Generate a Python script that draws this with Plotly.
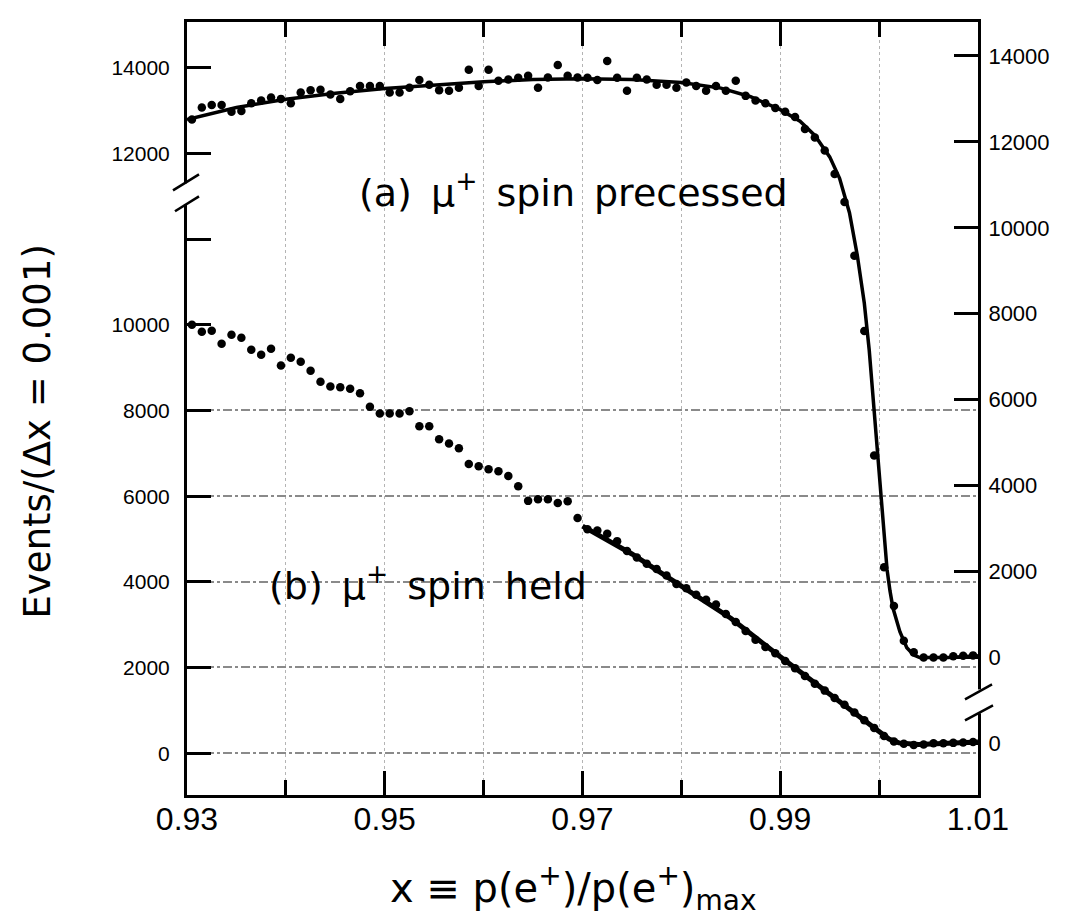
from plotly.graph_objects import Figure, Scatter

# (a) mu+ spin precessed: events per bin, read on the right-hand scale
X_A = [
    0.9305, 0.9315, 0.9325, 0.9335, 0.9345, 0.9355, 0.9365, 0.9375, 0.9385, 0.9395,
    0.9405, 0.9415, 0.9425, 0.9435, 0.9445, 0.9455, 0.9465, 0.9475, 0.9485, 0.9495,
    0.9505, 0.9515, 0.9525, 0.9535, 0.9545, 0.9555, 0.9565, 0.9575, 0.9585, 0.9595,
    0.9605, 0.9615, 0.9625, 0.9635, 0.9645, 0.9655, 0.9665, 0.9675, 0.9685, 0.9695,
    0.9705, 0.9715, 0.9725, 0.9735, 0.9745, 0.9755, 0.9765, 0.9775, 0.9785, 0.9795,
    0.9805, 0.9815, 0.9825, 0.9835, 0.9845, 0.9855, 0.9865, 0.9875, 0.9885, 0.9895,
    0.9905, 0.9915, 0.9925, 0.9935, 0.9945, 0.9955, 0.9965, 0.9975, 0.9985, 0.9995,
    1.0005, 1.0015, 1.0025, 1.0035, 1.0045, 1.0055, 1.0065, 1.0075, 1.0085, 1.0095,
]
Y_A = [
    12520, 12800, 12860, 12860, 12700, 12720, 12900, 12960, 13030, 13000,
    12900, 13150, 13200, 13210, 13100, 13000, 13180, 13300, 13300, 13300,
    13150, 13150, 13260, 13440, 13330, 13200, 13190, 13260, 13680, 13300,
    13680, 13420, 13450, 13490, 13540, 13260, 13500, 13790, 13540, 13500,
    13490, 13440, 13880, 13490, 13190, 13490, 13450, 13330, 13330, 13260,
    13380, 13300, 13190, 13300, 13190, 13420, 13070, 12960, 12900, 12790,
    12700, 12580, 12300, 12100, 11800, 11250, 10600, 9350, 7600, 4700,
    2100, 1200, 390, 120, 0, 0, 0, 30, 40, 50,
]
X_A_FIT = [
    0.9300, 0.9350, 0.9400, 0.9450, 0.9500, 0.9550, 0.9600, 0.9650, 0.9700, 0.9750,
    0.9800, 0.9840, 0.9870, 0.9900, 0.9920, 0.9935, 0.9950, 0.9960, 0.9970, 0.9978,
    0.9985, 0.9990, 0.9995, 1.0000, 1.0005, 1.0008, 1.0011, 1.0014, 1.0021, 1.0028,
    1.0035, 1.0041, 1.0070, 1.0100,
]
Y_A_FIT = [
    12520, 12800, 12990, 13130, 13240, 13330, 13400, 13450, 13470, 13450,
    13380, 13250, 13050, 12750, 12480, 12150, 11650, 11150, 10350, 9350,
    8250, 7150, 5750, 4250, 3000, 2050, 1550, 1150, 600, 230,
    60, 0, 0, 40,
]

# (b) mu+ spin held: events per bin, read on the left-hand scale
X_B = [
    0.9305, 0.9315, 0.9325, 0.9335, 0.9345, 0.9355, 0.9365, 0.9375, 0.9385, 0.9395,
    0.9405, 0.9415, 0.9425, 0.9435, 0.9445, 0.9455, 0.9465, 0.9475, 0.9485, 0.9495,
    0.9505, 0.9515, 0.9525, 0.9535, 0.9545, 0.9555, 0.9565, 0.9575, 0.9585, 0.9595,
    0.9605, 0.9615, 0.9625, 0.9635, 0.9645, 0.9655, 0.9665, 0.9675, 0.9685, 0.9695,
    0.9705, 0.9715, 0.9725, 0.9735, 0.9745, 0.9755, 0.9765, 0.9775, 0.9785, 0.9795,
    0.9805, 0.9815, 0.9825, 0.9835, 0.9845, 0.9855, 0.9865, 0.9875, 0.9885, 0.9895,
    0.9905, 0.9915, 0.9925, 0.9935, 0.9945, 0.9955, 0.9965, 0.9975, 0.9985, 0.9995,
    1.0005, 1.0015, 1.0025, 1.0035, 1.0045, 1.0055, 1.0065, 1.0075, 1.0085, 1.0095,
]
Y_B = [
    10000, 9840, 9860, 9560, 9770, 9700, 9420, 9300, 9440, 9050,
    9230, 9140, 8930, 8670, 8560, 8540, 8510, 8400, 8090, 7930,
    7930, 7930, 7980, 7630, 7630, 7330, 7230, 7120, 6750, 6700,
    6630, 6580, 6470, 6230, 5890, 5930, 5930, 5840, 5880, 5490,
    5230, 5200, 5120, 4950, 4720, 4570, 4420, 4300, 4150, 3950,
    3850, 3700, 3580, 3470, 3250, 3060, 2850, 2650, 2480, 2330,
    2150, 1980, 1800, 1620, 1460, 1290, 1130, 950, 770, 590,
    400, 270, 220, 190, 200, 230, 230, 240, 250, 260,
]
X_B_FIT = [0.9700, 0.9750, 0.9800, 0.9850, 0.9900, 0.9950, 0.9980, 1.0000, 1.0010, 1.0020, 1.0040, 1.0070, 1.0100]
Y_B_FIT = [5300, 4650, 3900, 3150, 2250, 1380, 850, 500, 330, 240, 200, 230, 260]

# axis ticks: the left scale is broken, its upper part relabelled
LEFT_TICKS = [0, 2000, 4000, 6000, 8000, 10000, 12000, 14000, 16000]
LEFT_LABELS = ["0", "2000", "4000", "6000", "8000", "10000", "", "12000", "14000"]
RIGHT_TICKS = [-2000, 0, 2000, 4000, 6000, 8000, 10000, 12000, 14000]
RIGHT_LABELS = ["0", "0", "2000", "4000", "6000", "8000", "10000", "12000", "14000"]
GRID_TICKS = [0, 2000, 4000, 6000, 8000]
X_MINOR = [0.94, 0.96, 0.98, 1.00]

FONT = "Liberation Sans, Arial, sans-serif"
TEXT_FONT = "DejaVu Sans, sans-serif"
PAGE_W, PAGE_H = 1082, 918
BODY = 8  # the page body margin shifts the figure
LEFT, RIGHT, TOP, BOTTOM = 187, 978, 19, 795  # plot frame, page pixels


def paper(x, y):
    """Page pixel position to paper coordinates."""
    return (x - LEFT) / (RIGHT - LEFT), (BOTTOM - y) / (BOTTOM - TOP)


def line(x0, y0, x1, y1, width=2.5):
    a, b = paper(x0, y0)
    c, d = paper(x1, y1)
    return dict(type="line", xref="paper", yref="paper", x0=a, y0=b, x1=c, y1=d,
                line=dict(color="black", width=width), layer="above")


def gap(x0, y0, x1, y1):
    a, b = paper(x0, y0)
    c, d = paper(x1, y1)
    return dict(type="rect", xref="paper", yref="paper", x0=a, y0=b, x1=c, y1=d,
                fillcolor="white", line=dict(width=0), layer="above")


def label(fig, text, x, y, size, angle=0):
    px, py = paper(x, y)
    fig.add_annotation(text=text, x=px, y=py, xref="paper", yref="paper",
                       xanchor="center", yanchor="middle", textangle=angle,
                       showarrow=False, font=dict(family=TEXT_FONT, size=size))


def main():
    fig = Figure()
    fig.add_trace(Scatter(x=X_A_FIT, y=Y_A_FIT, yaxis="y2", mode="lines",
                          line=dict(color="black", width=3.5)))
    fig.add_trace(Scatter(x=X_A, y=Y_A, yaxis="y2", mode="markers",
                          marker=dict(color="black", size=8.5)))
    fig.add_trace(Scatter(x=X_B_FIT, y=Y_B_FIT, mode="lines",
                          line=dict(color="black", width=5)))
    fig.add_trace(Scatter(x=X_B, y=Y_B, mode="markers",
                          marker=dict(color="black", size=8.5)))
    # keeps the grid axis alive
    fig.add_trace(Scatter(x=[0.93], y=[0], yaxis="y3", mode="markers",
                          marker=dict(size=0.1, opacity=0), hoverinfo="skip"))

    tick = dict(ticks="inside", ticklen=24, tickwidth=2.5, tickcolor="black",
                showline=True, linecolor="black", linewidth=3, zeroline=False)
    fig.update_layout(
        width=PAGE_W - BODY, height=PAGE_H - BODY,
        margin=dict(l=LEFT - BODY, r=PAGE_W - RIGHT, t=TOP - BODY, b=PAGE_H - BOTTOM),
        paper_bgcolor="white", plot_bgcolor="white",
        showlegend=False,
        font=dict(family=FONT, color="black"),
        xaxis=dict(
            **tick, range=[0.93, 1.01], tickmode="linear", tick0=0.93, dtick=0.02,
            tickformat=".2f", mirror="ticks", ticklabelstandoff=-6,
            tickfont=dict(size=32),
            showgrid=True, griddash="dot", gridcolor="#b4b4b4", gridwidth=1,
            minor=dict(tickvals=X_MINOR, ticks="inside", ticklen=15, tickwidth=2.5,
                       tickcolor="black", showgrid=True, griddash="dot",
                       gridcolor="#b4b4b4", gridwidth=1),
        ),
        yaxis=dict(
            **tick, range=[-977, 17070], tickmode="array", tickvals=LEFT_TICKS,
            ticktext=LEFT_LABELS, tickfont=dict(size=21), ticklabelstandoff=10,
            showgrid=False,
        ),
        yaxis2=dict(
            **tick, range=[-3199, 14789], overlaying="y", side="right", anchor="x",
            tickmode="array", tickvals=RIGHT_TICKS, ticktext=RIGHT_LABELS,
            tickfont=dict(size=22), ticklabelstandoff=3, showgrid=False,
        ),
        yaxis3=dict(
            range=[-977, 17070], overlaying="y", anchor="x", tickmode="array",
            tickvals=GRID_TICKS, showticklabels=False, ticks="", showline=False,
            zeroline=False, showgrid=True, griddash="dashdot", gridcolor="#8a8a8a",
            gridwidth=1.5,
        ),
    )

    # axis titles and curve labels
    label(fig, "Events/(\u0394x = 0.001)", 37, 430, 37, angle=-90)
    label(fig, "x \u2261 p(e<sup>+</sup>)/p(e<sup>+</sup>)<sub>max</sub>", 573, 888, 40)
    label(fig, "(a)\u2002\u03bc<sup>+</sup>\u2002spin\u2002precessed", 573, 188, 38)
    label(fig, "(b)\u2002\u03bc<sup>+</sup>\u2002spin\u2002held", 428, 582, 38)

    # broken axes
    fig.update_layout(shapes=[
        gap(178, 181, 196, 202),
        line(173, 188, 199, 172),
        line(175, 209, 199, 194),
        gap(969, 689, 987, 713),
        line(965, 699, 992, 684),
        line(965, 720, 993, 705),
    ])
    fig.write_html("out.html")


if __name__ == "__main__":
    main()
